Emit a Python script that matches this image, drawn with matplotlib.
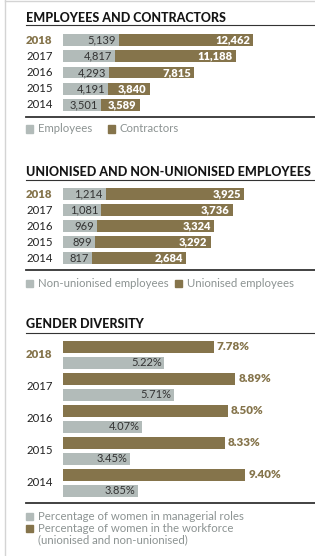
import matplotlib
matplotlib.use("Agg")
import matplotlib.pyplot as plt
from matplotlib.lines import Line2D
from matplotlib.patches import Rectangle
from matplotlib.transforms import blended_transform_factory

years = ['2018', '2017', '2016', '2015', '2014']
employees = [5139, 4817, 4293, 4191, 3501]
contractors = [12462, 11188, 7815, 3840, 3589]
non_unionised = [1214, 1081, 969, 899, 817]
unionised = [3925, 3736, 3324, 3292, 2684]
women_workforce = [7.78, 8.89, 8.50, 8.33, 9.40]
women_managerial = [5.22, 5.71, 4.07, 3.45, 3.85]

W, H = 315, 556
GRAY = '#b2bbb9'
BROWN = '#85744b'
DARK = '#222222'
LEG = '#8c9392'
FONT = 'Lato'

fig = plt.figure(figsize=(W / 100, H / 100), dpi=100)
fig.patch.set_facecolor('white')


def fx(x):
    return x / W


def fy(y):
    return 1 - y / H


def hline(y, x0, x1, color, lw):
    fig.add_artist(Line2D([fx(x0), fx(x1)], [fy(y), fy(y)], color=color, lw=lw,
                          transform=fig.transFigure))


def axes_px(x0, y0, x1, y1):
    ax = fig.add_axes([fx(x0), fy(y1), (x1 - x0) / W, (y1 - y0) / H])
    ax.set_axis_off()
    return ax


def title(text, y):
    fig.text(fx(26), fy(y), text, fontsize=9.0, fontweight=900, family=FONT,
             color='#151515', ha='left', va='center')


def legend_item(x, y, color, text):
    fig.add_artist(Rectangle((fx(x), fy(y + 3.5)), 7 / W, 7 / H, color=color,
                             transform=fig.transFigure))
    fig.text(fx(x + 12), fy(y), text, fontsize=8.2, family=FONT, color=LEG,
             ha='left', va='center')


def year_labels(ax, ypos):
    tr = blended_transform_factory(fig.transFigure, ax.transData)
    for i, yr in enumerate(years):
        first = i == 0
        ax.text(fx(26), ypos[i], yr, transform=tr, ha='left', va='center',
                fontsize=8.2, family=FONT,
                fontweight='heavy' if first else 'normal',
                color=BROWN if first else DARK)


# frame lines
fig.add_artist(Line2D([fx(5), fx(5)], [0, 1], color='#d4d4d4', lw=1.0, transform=fig.transFigure))
hline(1, 5, 315, '#d4d4d4', 1.0)

# ---------- Section 1 ----------
title('EMPLOYEES AND CONTRACTORS', 17.5)
hline(25, 26, 315, '#333333', 0.8)
ax1 = axes_px(63, 32, 315, 113)
ax1.set_xlim(0, 252 / 0.0108)
ax1.set_ylim(4.5, -0.5)
ypos = list(range(5))
ax1.barh(ypos, employees, height=0.74, color=GRAY)
ax1.barh(ypos, contractors, left=employees, height=0.74, color=BROWN)
pad = 3 / 0.0108
for i in range(5):
    ax1.text(employees[i] - pad, i, f'{employees[i]:,}', ha='right', va='center',
             fontsize=8, family=FONT, color='#333333')
    ax1.text(employees[i] + contractors[i] - pad, i, f'{contractors[i]:,}', ha='right',
             va='center', fontsize=8, family=FONT, fontweight='heavy', color='white')
year_labels(ax1, ypos)
hline(117, 26, 315, '#333333', 1.3)
legend_item(26, 129, GRAY, 'Employees')
legend_item(108, 129, BROWN, 'Contractors')

# ---------- Section 2 ----------
title('UNIONISED AND NON-UNIONISED EMPLOYEES', 171.5)
hline(180, 26, 315, '#333333', 0.8)
ax2 = axes_px(63, 186, 315, 266)
ax2.set_xlim(0, 252 / 0.0352)
ax2.set_ylim(4.5, -0.5)
ax2.barh(ypos, non_unionised, height=0.75, color=GRAY)
ax2.barh(ypos, unionised, left=non_unionised, height=0.75, color=BROWN)
pad = 3 / 0.0352
for i in range(5):
    ax2.text(non_unionised[i] - pad, i, f'{non_unionised[i]:,}', ha='right', va='center',
             fontsize=8, family=FONT, color='#333333')
    ax2.text(non_unionised[i] + unionised[i] - pad, i, f'{unionised[i]:,}', ha='right',
             va='center', fontsize=8, family=FONT, fontweight='heavy', color='white')
year_labels(ax2, ypos)
hline(270, 26, 315, '#333333', 1.3)
legend_item(26, 283, GRAY, 'Non-unionised employees')
legend_item(175, 283, BROWN, 'Unionised employees')

# ---------- Section 3 ----------
title('GENDER DIVERSITY', 324.5)
hline(333, 26, 315, '#333333', 0.8)
ax3 = axes_px(63, 339, 315, 499)
ax3.set_xlim(0, 252 / 19.4)
ax3.set_ylim(4.5, -0.5)
off = 0.25
bpos = [i - off for i in ypos]
gpos = [i + off for i in ypos]
ax3.barh(bpos, women_workforce, height=0.38, color=BROWN)
ax3.barh(gpos, women_managerial, height=0.38, color=GRAY)
for i in range(5):
    ax3.text(women_workforce[i] + 3 / 19.4, bpos[i] - 0.03, f'{women_workforce[i]:.2f}%',
             ha='left', va='center', fontsize=8.4, family=FONT, fontweight='heavy', color=BROWN)
    ax3.text(women_managerial[i] - 2 / 19.4, gpos[i], f'{women_managerial[i]:.2f}%',
             ha='right', va='center', fontsize=8, family=FONT, color='#333333')
year_labels(ax3, ypos)
hline(503, 26, 315, '#333333', 1.3)
legend_item(26, 516.5, GRAY, 'Percentage of women in managerial roles')
legend_item(26, 528.5, BROWN, 'Percentage of women in the workforce')
fig.text(fx(38), fy(540), '(unionised and non-unionised)', fontsize=8.2, family=FONT,
         color=LEG, ha='left', va='center')

fig.savefig('out.png', dpi=100)
